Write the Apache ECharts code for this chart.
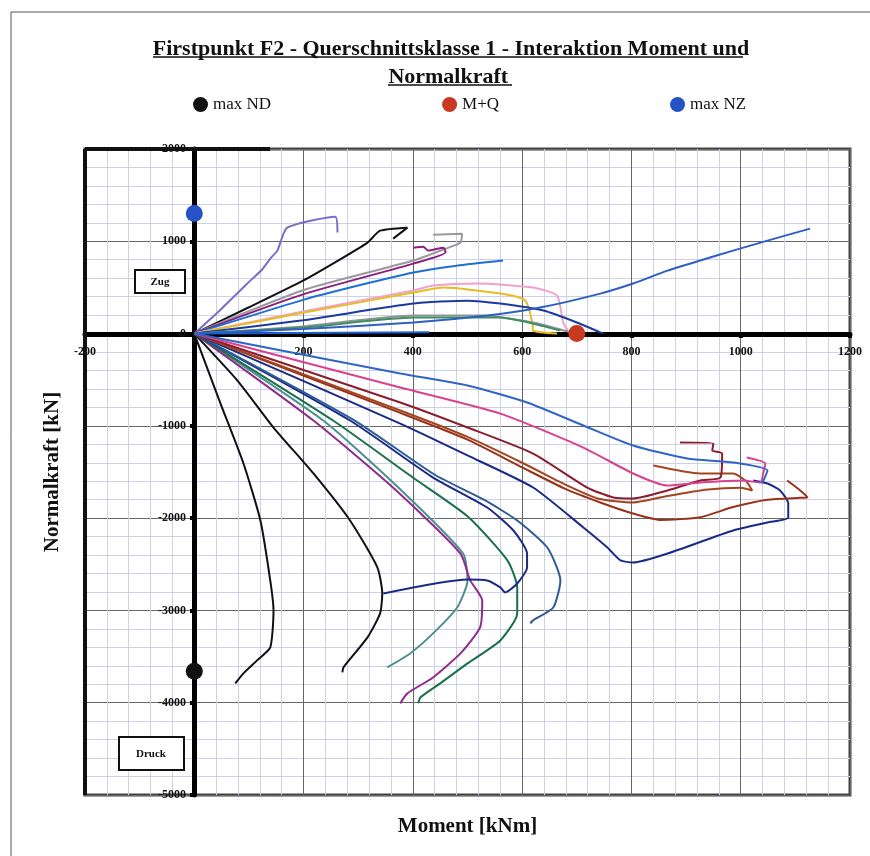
<!DOCTYPE html>
<html><head><meta charset="utf-8">
<script src="https://cdn.jsdelivr.net/npm/echarts@6/dist/echarts.min.js"></script>
<style>html,body{margin:0;padding:0;background:#fff}#c{width:870px;height:856px}</style>
</head><body><div id="c"></div>
<script>
// ---- tick values ----
const xTickValues = [-200, 0, 200, 400, 600, 800, 1000, 1200];
const yTickValues = [-5000, -4000, -3000, -2000, -1000, 0, 1000, 2000];
const legendNames = ['max ND', 'M+Q', 'max NZ'];

// ---- marker points [Moment kNm, Normalkraft kN] ----
const ptMaxND = [0, -3660];
const ptMQ = [700, 0];
const ptMaxNZ = [0, 1300];

// ---- tension side curves ----
const upLavender = [[0,0],[50,270],[97,542],[125,700],[139,812],[152,899],[170,1148],[258,1267],[262,1094]];
const upBlack = [[0,0],[100,285],[199,574],[260,780],[317,986],[340,1115],[390,1148],[364,1029]];
const upGray = [[0,0],[199,470],[401,791],[460,920],[487,986],[490,1083],[437,1072]];
const upPurple = [[0,0],[199,425],[401,758],[460,880],[456,931],[428,899],[419,942],[401,931]];
const upBlue = [[0,0],[199,365],[300,520],[401,661],[480,735],[565,791]];
const upPink = [[0,0],[199,240],[401,466],[437,520],[518,542],[620,498],[664,412],[675,119],[684,32]];
const upYellow = [[0,0],[199,225],[401,444],[456,498],[560,433],[606,357],[619,108],[620,32],[664,0]];
const upNavy = [[0,0],[199,145],[401,325],[500,357],[560,325],[639,249],[700,120],[748,0]];
const upGray2 = [[0,0],[199,78],[401,195],[529,195],[620,119],[664,54],[690,10]];
const upGreen = [[0,0],[199,65],[401,173],[560,173],[640,80],[670,32]];
const longBlue = [[0,0],[199,50],[401,119],[536,195],[633,282],[743,433],[803,542],[866,682],[926,791],[986,899],[1049,1007],[1127,1137]];
const axisBlue = [[0,0],[430,15]];

// ---- compression side curves ----
const loBlack1 = [[0,0],[48,-758],[90,-1408],[121,-2025],[139,-2675],[145,-3000],[139,-3401],[115,-3541],[90,-3682],[75,-3791]];
const loBlack2 = [[0,0],[79,-509],[145,-1018],[218,-1516],[285,-2025],[335,-2534],[344,-2816],[340,-3032],[317,-3292],[273,-3617],[271,-3671]];
const loTeal = [[0,0],[236,-942],[370,-1650],[492,-2383],[500,-2675],[481,-2968],[437,-3249],[395,-3466],[353,-3617]];
const loPurple = [[0,0],[218,-942],[360,-1650],[487,-2383],[505,-2675],[527,-2892],[523,-3184],[487,-3466],[437,-3726],[390,-3899],[377,-4007]];
const loGreen = [[0,0],[254,-942],[400,-1560],[500,-1980],[573,-2458],[591,-2751],[591,-3032],[560,-3325],[500,-3574],[450,-3790],[414,-3942],[410,-4007]];
const loNavy2 = [[0,0],[285,-942],[437,-1560],[536,-1885],[584,-2134],[609,-2383],[609,-2534],[591,-2708],[569,-2805],[560,-2751],[536,-2675],[500,-2664],[346,-2816]];
const loSteel = [[0,0],[290,-930],[440,-1530],[530,-1800],[591,-2025],[646,-2318],[670,-2675],[657,-2968],[620,-3108],[615,-3141]];
const loNavy = [[0,0],[377,-975],[500,-1320],[620,-1668],[712,-2101],[756,-2318],[780,-2458],[803,-2480],[866,-2383],[986,-2134],[1049,-2047],[1087,-1993],[1087,-1841],[1072,-1700],[1049,-1625],[1023,-1592]];
const loBrown1 = [[0,0],[377,-860],[500,-1150],[600,-1450],[678,-1680],[743,-1830],[803,-1950],[853,-2020],[926,-1990],[986,-1880],[1049,-1800],[1109,-1780],[1122,-1776],[1109,-1700],[1085,-1592]];
const loBrown2 = [[0,0],[377,-834],[500,-1120],[600,-1400],[680,-1640],[740,-1790],[803,-1830],[866,-1760],[940,-1690],[1000,-1670],[1021,-1700],[1010,-1600],[986,-1516],[926,-1516],[840,-1430]];
const loMaroon = [[0,0],[377,-747],[500,-1018],[620,-1300],[719,-1668],[767,-1776],[803,-1787],[866,-1700],[926,-1592],[963,-1560],[966,-1300],[948,-1267],[950,-1191],[889,-1180]];
const loPink = [[0,0],[377,-585],[560,-867],[712,-1235],[803,-1516],[866,-1646],[926,-1614],[1005,-1592],[1036,-1614],[1041,-1516],[1045,-1408],[1011,-1343]];
const loBlue = [[0,0],[377,-433],[500,-563],[609,-747],[712,-996],[803,-1213],[902,-1354],[986,-1397],[1049,-1484],[1039,-1625]];

const curves = [
  [upLavender,'#7b6dc6'],[upBlack,'#111111'],[upGray,'#9a9a9a'],[upPurple,'#8b1f7f'],
  [upBlue,'#1f6fd6'],[upPink,'#efa2cf'],[upYellow,'#e6bd22'],[upNavy,'#1c3a9c'],
  [upGray2,'#8d9592'],[upGreen,'#3f8d62'],[longBlue,'#2f5fc4'],[axisBlue,'#1f5fd0'],
  [loBlack1,'#111111'],[loBlack2,'#111111'],[loTeal,'#4d9090'],[loPurple,'#8e2d8e'],
  [loGreen,'#1a7048'],[loNavy2,'#1b2a86'],[loSteel,'#2e5c96'],[loNavy,'#1b2a86'],
  [loBrown1,'#983218'],[loBrown2,'#a5451f'],[loMaroon,'#8b1e2e'],[loPink,'#d8428e'],[loBlue,'#2f64c8']
];

const serif = '"Liberation Serif", "DejaVu Serif", serif';
const chart = echarts.init(document.getElementById('c'));

// grid geometry (pixels) and axis offsets placing both axes through the origin
const G = { left: 85, right: 20, top: 149, bottom: 61 };
const plotW = 870 - G.left - G.right, plotH = 856 - G.top - G.bottom;
const xMin = xTickValues[0], xMax = xTickValues[xTickValues.length - 1];
const yMin = yTickValues[0], yMax = yTickValues[yTickValues.length - 1];
const yAxisOffset = -Math.round((0 - xMin) / (xMax - xMin) * plotW);
const xAxisOffset = -Math.round((0 - yMin) / (yMax - yMin) * plotH);

const series = curves.map((c, i) => ({
  type: 'line', name: 'c' + i, data: c[0], showSymbol: false, symbol: 'none',
  smooth: 0.2, silent: true, z: 3,
  lineStyle: { width: 2, color: c[1] }, itemStyle: { color: c[1] }
}));
series.push(
  { type: 'scatter', name: legendNames[0], data: [ptMaxND], symbolSize: 17, itemStyle: { color: '#111', opacity: 1 }, z: 6 },
  { type: 'scatter', name: legendNames[1], data: [ptMQ], symbolSize: 17, itemStyle: { color: '#c8391f', opacity: 1 }, z: 6 },
  { type: 'scatter', name: legendNames[2], data: [ptMaxNZ], symbolSize: 17, itemStyle: { color: '#2552c4', opacity: 1 }, z: 6 }
);

chart.setOption({
  animation: false,
  backgroundColor: '#fff',
  title: {
    text: 'Firstpunkt F2 - Querschnittsklasse 1 - Interaktion Moment und\nNormalkraft ',
    left: 446, top: 30, textAlign: 'center',
    textStyle: { fontFamily: serif, fontWeight: 'bold', fontSize: 22, lineHeight: 28, color: '#111' }
  },
  legend: {
    data: legendNames, left: 188, top: 91, itemGap: 171, icon: 'circle',
    itemWidth: 15, itemHeight: 15, selectedMode: false,
    textStyle: { fontFamily: serif, fontSize: 17, color: '#111' }
  },
  grid: { left: G.left, right: G.right, top: G.top, bottom: G.bottom, show: true, borderWidth: 3, borderColor: '#444',
    backgroundColor: '#fff', containLabel: false, outerBoundsMode: 'none' },
  xAxis: {
    type: 'value', min: xMin, max: xMax, interval: 200, offset: xAxisOffset,
    name: 'Moment [kNm]', nameLocation: 'middle', nameGap: 482,
    nameTextStyle: { fontFamily: serif, fontWeight: 'bold', fontSize: 21, color: '#111' },
    axisLine: { onZero: false, lineStyle: { color: '#000', width: 5 } },
    axisTick: { show: true, length: 4, lineStyle: { color: '#000', width: 4 } },
    axisLabel: { margin: 12, fontFamily: serif, fontWeight: 'bold', fontSize: 12, color: '#111',
      formatter: v => (v === 0 ? '' : String(v)) },
    splitLine: { show: true, lineStyle: { color: '#666', width: 1 } },
    minorTick: { show: false, splitNumber: 5 },
    minorSplitLine: { show: true, lineStyle: { color: '#cdd0e6', width: 1 } }
  },
  yAxis: {
    type: 'value', min: yMin, max: yMax, interval: 1000, offset: yAxisOffset,
    name: 'Normalkraft [kN]', nameLocation: 'middle', nameGap: 131, nameRotate: 90,
    nameTextStyle: { fontFamily: serif, fontWeight: 'bold', fontSize: 21, color: '#111' },
    axisLine: { onZero: false, lineStyle: { color: '#000', width: 5 } },
    axisTick: { show: true, length: 4, lineStyle: { color: '#000', width: 4 } },
    axisLabel: { margin: 8, fontFamily: serif, fontWeight: 'bold', fontSize: 12, color: '#111',
      formatter: v => String(v) },
    splitLine: { show: true, lineStyle: { color: '#666', width: 1 } },
    minorTick: { show: false, splitNumber: 5 },
    minorSplitLine: { show: true, lineStyle: { color: '#cdd0e6', width: 1 } }
  },
  graphic: [
    { type: 'rect', shape: { x: 11, y: 12, width: 880, height: 880 }, style: { fill: 'none', stroke: '#555', lineWidth: 1 }, silent: true },
    { type: 'line', shape: { x1: 153, y1: 57, x2: 743, y2: 57 }, style: { stroke: '#111', lineWidth: 1.5 }, silent: true },
    { type: 'line', shape: { x1: 388, y1: 85, x2: 512, y2: 85 }, style: { stroke: '#111', lineWidth: 1.5 }, silent: true },
    { type: 'rect', shape: { x: 135, y: 270, width: 50, height: 23 }, style: { fill: '#fff', stroke: '#111', lineWidth: 2 }, z: 10, silent: true },
    { type: 'text', x: 160, y: 282, style: { text: 'Zug', fontFamily: serif, fontWeight: 'bold', fontSize: 11, fill: '#111', align: 'center', verticalAlign: 'middle' }, z: 11, silent: true },
    { type: 'rect', shape: { x: 119, y: 737, width: 65, height: 33 }, style: { fill: '#fff', stroke: '#111', lineWidth: 2 }, z: 10, silent: true },
    { type: 'text', x: 151, y: 754, style: { text: 'Druck', fontFamily: serif, fontWeight: 'bold', fontSize: 11, fill: '#111', align: 'center', verticalAlign: 'middle' }, z: 11, silent: true },
    { type: 'line', shape: { x1: 85, y1: 149, x2: 85, y2: 795 }, style: { stroke: '#111', lineWidth: 4 }, z: 9, silent: true },
    { type: 'line', shape: { x1: 85, y1: 149, x2: 270, y2: 149 }, style: { stroke: '#111', lineWidth: 4 }, z: 9, silent: true }
  ],
  series: series
});
</script></body></html>
